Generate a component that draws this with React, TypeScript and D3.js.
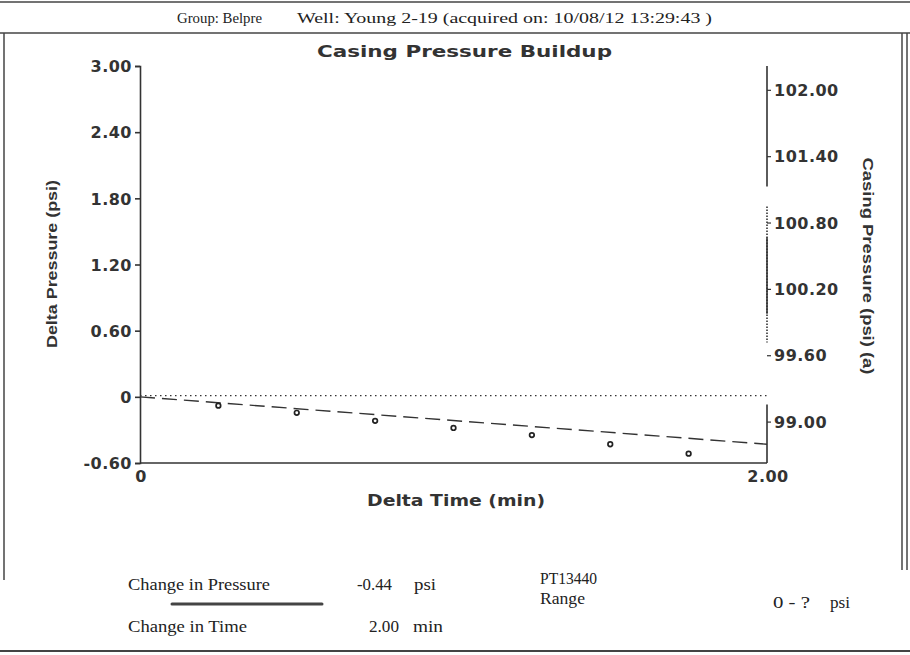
import React, { useEffect, useRef } from "react";
import * as d3 from "d3";

const timeMin = [0.25, 0.5, 0.75, 1.0, 1.25, 1.5, 1.75];
const deltaPsi = [-0.08, -0.145, -0.218, -0.282, -0.347, -0.43, -0.515];
const fitTime = [0, 2];
const fitPsi = [0, -0.43];
const casingTime = [0, 2];
const casingPsi = [99.24, 99.24];
const leftTicks = [3.0, 2.4, 1.8, 1.2, 0.6, 0, -0.6];
const rightTicks = [102.0, 101.4, 100.8, 100.2, 99.6, 99.0];
const xTicks = [0, 2.0];

const W = 910;
const H = 655;
const INK = "#333";
const SANS = "'Liberation Sans', Arial, sans-serif";
const HEAVY = "'DejaVu Sans', Verdana, sans-serif";
const SERIF = "'Liberation Serif', 'Times New Roman', serif";

const fmt = (d: number) => (d === 0 ? "0" : d3.format(".2f")(d).replace("\u2212", "-"));

export default function App() {
  const ref = useRef<SVGSVGElement>(null);
  useEffect(() => {
    const svg = d3.select(ref.current);
    svg.selectAll("*").remove();
    const x = d3.scaleLinear().domain([0, 2]).range([140, 767]);
    const yL = d3.scaleLinear().domain([-0.6, 3]).range([463, 66]);
    const yR = d3.scaleLinear().domain([98.63, 102.22]).range([463, 66]);

    const txt = (
      g: any, s: string, px: number, py: number, size: number, family: string,
      len?: number, opts: { bold?: boolean; anchor?: string; rot?: number } = {}
    ) => {
      const t = g.append("text")
        .attr("font-family", family).attr("font-size", size).attr("fill", INK)
        .attr("text-anchor", opts.anchor || "start")
        .attr("font-weight", opts.bold ? "bold" : "normal")
        .text(s);
      if (opts.rot) t.attr("transform", `translate(${px},${py}) rotate(${opts.rot})`);
      else t.attr("x", px).attr("y", py);
      if (len) t.attr("textLength", len).attr("lengthAdjust", "spacingAndGlyphs");
      return t;
    };

    // frame
    const g0 = svg.append("g").attr("stroke", "#444").attr("fill", "none");
    g0.append("line").attr("x1", 0).attr("x2", W).attr("y1", 2).attr("y2", 2).attr("stroke-width", 1.5);
    g0.append("line").attr("x1", 0).attr("x2", W).attr("y1", 33).attr("y2", 33).attr("stroke-width", 1.5);
    g0.append("line").attr("x1", 4).attr("x2", 4).attr("y1", 33).attr("y2", 580).attr("stroke-width", 1.5);
    g0.append("line").attr("x1", 902).attr("x2", 902).attr("y1", 33).attr("y2", 570).attr("stroke-width", 1.5);
    g0.append("line").attr("x1", 907).attr("x2", 907).attr("y1", 33).attr("y2", 570).attr("stroke-width", 1.5);
    g0.append("line").attr("x1", 0).attr("x2", W).attr("y1", 651).attr("y2", 651).attr("stroke-width", 2);

    // header
    txt(svg, "Group: Belpre", 177, 23, 15, SERIF, 85).attr("fill", "#222");
    txt(svg, "Well: Young 2-19 (acquired on: 10/08/12 13:29:43 )", 297, 23, 15.5, SERIF, 415).attr("fill", "#222");

    txt(svg, "Casing Pressure Buildup", 317, 57, 16, HEAVY, 295, { bold: true });

    // left axis
    const gl = svg.append("g").attr("transform", `translate(${x(0)},0)`);
    gl.call(d3.axisLeft(yL).tickValues(leftTicks).tickSize(5).tickPadding(3).tickFormat((d: any) => fmt(d)));
    gl.selectAll("path,line").attr("stroke", INK).attr("stroke-width", 1.6);
    gl.selectAll("text").attr("font-family", HEAVY).attr("font-weight", "bold").attr("font-size", 16)
      .attr("fill", INK).attr("letter-spacing", 0.5).attr("dy", "0.36em");

    // bottom axis
    svg.append("line").attr("x1", x(0)).attr("x2", x(2)).attr("y1", yL(-0.6)).attr("y2", yL(-0.6))
      .attr("stroke", INK).attr("stroke-width", 1.6);
    svg.selectAll(".xt").data(xTicks).enter().append("text")
      .attr("x", (d) => x(d) + 1).attr("y", 482).attr("text-anchor", "middle")
      .attr("font-family", HEAVY).attr("font-weight", "bold").attr("font-size", 16).attr("fill", INK).attr("letter-spacing", 0.5)
      .text((d) => fmt(d));

    // right axis segments
    const rSegs: [number, number, string][] = [
      [102.22, 101.13, "none"],
      [100.95, 99.72, "1.5,1.5"],
      [100.67, 99.98, "none"],
      [99.16, 98.63, "none"],
    ];
    rSegs.forEach(([a, b, da]) => {
      svg.append("line").attr("x1", x(2)).attr("x2", x(2)).attr("y1", yR(a)).attr("y2", yR(b))
        .attr("stroke", INK).attr("stroke-width", 1.6).attr("stroke-dasharray", da);
    });
    svg.selectAll(".rt").data(rightTicks).enter().append("line")
      .attr("x1", x(2)).attr("x2", x(2) + 4).attr("y1", (d) => yR(d)).attr("y2", (d) => yR(d))
      .attr("stroke", INK).attr("stroke-width", 1.2);
    svg.selectAll(".rl").data(rightTicks).enter().append("text")
      .attr("x", x(2) + 7).attr("y", (d) => yR(d)).attr("dy", "0.36em")
      .attr("font-family", HEAVY).attr("font-weight", "bold").attr("font-size", 16).attr("fill", INK).attr("letter-spacing", 0.5)
      .text((d) => fmt(d));

    // axis titles
    txt(svg, "Delta Pressure (psi)", 57, 264, 15, SANS, 168, { bold: true, anchor: "middle", rot: -90 });
    txt(svg, "Casing Pressure (psi) (a)", 863, 266, 15, SANS, 217, { bold: true, anchor: "middle", rot: 90 });
    txt(svg, "Delta Time (min)", 367, 506, 16, HEAVY, 178, { bold: true });

    // casing pressure dotted
    const casingLine = d3.line<number>().x((_, i) => x(casingTime[i])).y((d) => yR(d));
    svg.append("path").attr("d", casingLine(casingPsi) as string).attr("fill", "none")
      .attr("stroke", INK).attr("stroke-width", 1.3).attr("stroke-dasharray", "1.5,3.5");

    // fit dashed
    const fitLine = d3.line<number>().x((_, i) => x(fitTime[i])).y((d) => yL(d));
    svg.append("path").attr("d", fitLine(fitPsi) as string).attr("fill", "none")
      .attr("stroke", INK).attr("stroke-width", 1.4).attr("stroke-dasharray", "15,7");

    // points
    svg.selectAll(".pt").data(deltaPsi).enter().append("circle")
      .attr("cx", (_, i) => x(timeMin[i])).attr("cy", (d) => yL(d)).attr("r", 2.3)
      .attr("fill", "#fff").attr("stroke", "#222").attr("stroke-width", 1.7);

    // bottom info
    const info = svg.append("g");
    const S = 16;
    txt(info, "Change in Pressure", 128, 590, S, SERIF, 142).attr("fill", "#222");
    txt(info, "-0.44", 357, 590, S, SERIF, 35).attr("fill", "#222");
    txt(info, "psi", 414, 590, S, SERIF, 22).attr("fill", "#222");
    txt(info, "Change in Time", 128, 632, S, SERIF, 119).attr("fill", "#222");
    txt(info, "2.00", 369, 632, S, SERIF, 30).attr("fill", "#222");
    txt(info, "min", 413, 632, S, SERIF, 30).attr("fill", "#222");
    txt(info, "PT13440", 540, 584, S, SERIF, 57).attr("fill", "#222");
    txt(info, "Range", 540, 604, S, SERIF, 45).attr("fill", "#222");
    txt(info, "0 - ?", 773, 608, S, SERIF, 37).attr("fill", "#222");
    txt(info, "psi", 830, 608, S, SERIF, 20).attr("fill", "#222");
    svg.append("line").attr("x1", 172).attr("x2", 322).attr("y1", 604).attr("y2", 604)
      .attr("stroke", "#444").attr("stroke-width", 3).attr("stroke-linecap", "round");
  }, []);
  return (
    <svg ref={ref} width={W} height={H} style={{ position: "absolute", left: 0, top: 0, background: "#fff" }} />
  );
}
